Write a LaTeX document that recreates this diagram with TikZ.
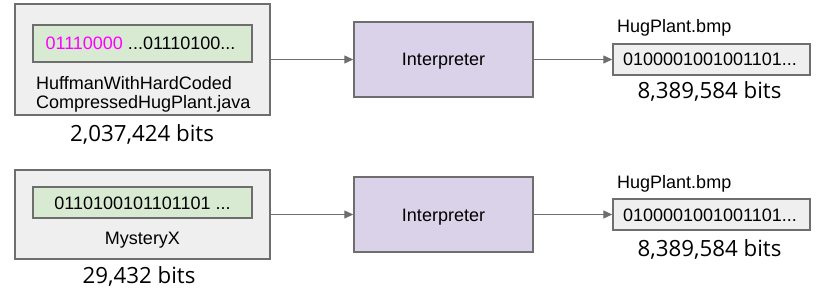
\documentclass[tikz,border=0pt]{standalone}
\usepackage{fontspec}
\setmainfont{Liberation Sans}
\newfontfamily\osans{Open Sans}
\usetikzlibrary{arrows.meta}
\definecolor{boxgray}{HTML}{EFEFEF}
\definecolor{edgegray}{HTML}{6E6E6E}
\definecolor{greenfill}{HTML}{D9EAD3}
\definecolor{purplefill}{HTML}{D9D2E9}
\definecolor{pinktext}{HTML}{FF00FF}
\tikzset{
  box/.style={draw=edgegray, line width=1.5pt, inner sep=0pt, rectangle},
  outerbox/.style={box, fill=boxgray, minimum width=255pt},
  greenbox/.style={box, fill=greenfill, minimum width=219pt},
  interp/.style={box, fill=purplefill, minimum width=179pt, minimum height=75pt},
  filebox/.style={box, fill=boxgray, minimum width=197pt, minimum height=31pt},
  lbl/.style={inner sep=0pt, font=\fontsize{18}{21}\selectfont},
  bits/.style={inner sep=0pt, font=\osans\fontsize{22.3}{25}\selectfont},
  conn/.style={draw=edgegray, line width=1.3pt, -{Triangle[length=9pt,width=8pt]}}
}
\begin{document}
\begin{tikzpicture}[x=1pt,y=-1pt]
\useasboundingbox (0,0) rectangle (826,296);
% top row
\node[outerbox, minimum height=111pt] (src1) at (142.5,59.5) {};
\node[greenbox, minimum height=37pt] (code1) at (142.5,43.5) {};
\node[lbl, anchor=base] (code1t) at (140.5,49.3) {\textcolor{pinktext}{01110000} ...01110100...};
\node[lbl, anchor=base west] (cap1a) at (36,89.3) {HuffmanWithHardCoded};
\node[lbl, anchor=base west] (cap1b) at (36,108.3) {CompressedHugPlant.java};
\node[bits, anchor=base] (bits1) at (142,142) {2,037,424 bits};
\node[interp] (int1) at (443.5,59.5) {};
\node[lbl, anchor=base] (int1t) at (443.5,66) {Interpreter};
\node[filebox] (out1) at (711.5,59.5) {};
\node[lbl, anchor=base] (out1t) at (710,65.7) {0100001001001101...};
\node[lbl, anchor=base west] (name1) at (617,33) {HugPlant.bmp};
\node[bits, anchor=base] (obits1) at (709.5,99) {8,389,584 bits};
\draw[conn] (src1.east) -- (int1.west);
\draw[conn] (int1.east) -- (out1.west);
% bottom row
\node[outerbox, minimum height=89pt] (src2) at (142.5,214.5) {};
\node[greenbox, minimum height=31pt] (code2) at (142.5,202.5) {};
\node[lbl, anchor=base] (code2t) at (142.5,210) {0110100101101101 ...};
\node[lbl, anchor=base] (cap2) at (142.5,244) {MysteryX};
\node[bits, anchor=base] (bits2) at (139,283) {29,432 bits};
\node[interp] (int2) at (443.5,214.5) {};
\node[lbl, anchor=base] (int2t) at (443.5,222) {Interpreter};
\node[filebox] (out2) at (711.5,214.5) {};
\node[lbl, anchor=base] (out2t) at (710,222) {0100001001001101...};
\node[lbl, anchor=base west] (name2) at (617,189) {HugPlant.bmp};
\node[bits, anchor=base] (obits2) at (709.5,256) {8,389,584 bits};
\draw[conn] (src2.east) -- (int2.west);
\draw[conn] (int2.east) -- (out2.west);
\end{tikzpicture}
\end{document}
